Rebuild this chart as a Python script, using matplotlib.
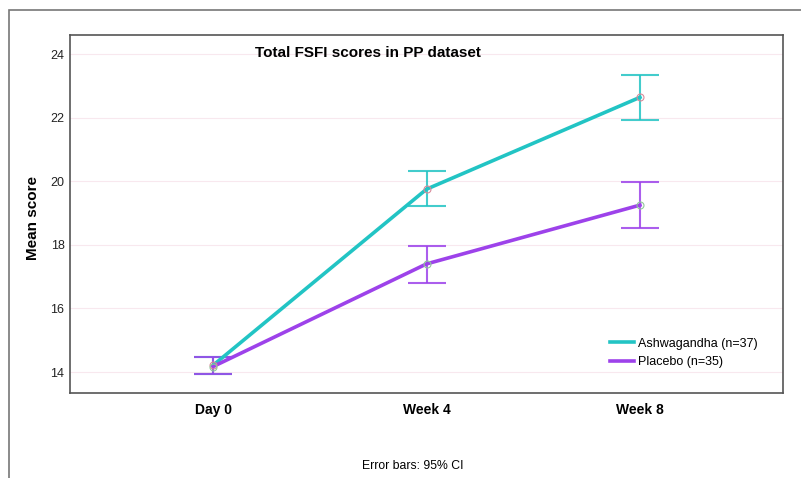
import matplotlib.pyplot as plt
from matplotlib.patches import Rectangle

plt.rcParams['font.family'] = ['Liberation Sans', 'DejaVu Sans']

# Data
timepoints = ["Day 0", "Week 4", "Week 8"]
ashwa_mean = [14.21, 19.75, 22.64]
ashwa_lo = [13.93, 19.22, 21.92]
ashwa_hi = [14.48, 20.33, 23.34]
placebo_mean = [14.17, 17.40, 19.25]
placebo_lo = [13.93, 16.81, 18.54]
placebo_hi = [14.48, 17.96, 19.98]
yticks = [14, 16, 18, 20, 22, 24]

teal = "#22c4c4"
purple = "#9d42ea"

W, H = 801, 478
fig = plt.figure(figsize=(W / 100, H / 100), dpi=100)
# outer frame (left and top edges visible, the rest runs off the picture)
fig.patches.append(Rectangle((9 / W, -0.1), 1.0, 1 - 10 / H + 0.1,
                             transform=fig.transFigure, fill=False,
                             edgecolor="#777777", linewidth=1.2))
ax = fig.add_axes([70 / W, (H - 393) / H, 713 / W, 358 / H])

x = list(range(len(timepoints)))


def draw(mean, lo, hi, color, marker_edge, label):
    err = [[m - l for m, l in zip(mean, lo)], [h - m for m, h in zip(mean, hi)]]
    ax.errorbar(x, mean, yerr=err, fmt="none", ecolor=color, elinewidth=1.5,
                capsize=13.5, capthick=1.5, alpha=0.85, zorder=3)
    ax.plot(x, mean, color=color, linewidth=2.6, label=label, zorder=4)
    ax.plot(x, mean, linestyle="none", marker="o", markersize=5,
            markerfacecolor="none", markeredgecolor=marker_edge,
            markeredgewidth=0.8, zorder=5)


draw(ashwa_mean, ashwa_lo, ashwa_hi, teal, "#d98a9a", "Ashwagandha (n=37)")
draw(placebo_mean, placebo_lo, placebo_hi, purple, "#8fc89a", "Placebo (n=35)")

ax.set_xlim(-0.67, 2.67)
ax.set_ylim(13.34, 24.6)
ax.set_yticks(yticks)
ax.set_yticklabels([str(t) for t in yticks], fontsize=9, color="#222222")
ax.set_xticks(x)
ax.set_xticklabels(timepoints, fontsize=10, fontweight="bold")
ax.tick_params(axis="both", length=0)
ax.tick_params(axis="y", pad=4)
ax.tick_params(axis="x", pad=7)
ax.grid(axis="y", color="#f8e8ee", linewidth=0.8)
ax.set_axisbelow(True)
for s in ax.spines.values():
    s.set_color("#555555")
    s.set_linewidth(1.2)

fig.text(33 / W, 1 - 218 / H, "Mean score", rotation=90, fontsize=11,
         fontweight="bold", ha="center", va="center")
fig.text(368 / W, 1 - 53 / H, "Total FSFI scores in PP dataset",
         fontsize=11, fontweight="bold", ha="center", va="center")

ax.legend(loc="center left", bbox_to_anchor=(610 / W, 1 - 353 / H),
          bbox_transform=fig.transFigure, frameon=False, fontsize=9,
          handlelength=1.9, handletextpad=0.3, labelspacing=0.55,
          borderpad=0, borderaxespad=0)

fig.text(413 / W, 1 - 466 / H, "Error bars: 95% CI", fontsize=8.8,
         ha="center", va="center")

fig.savefig("out.png", dpi=100)
